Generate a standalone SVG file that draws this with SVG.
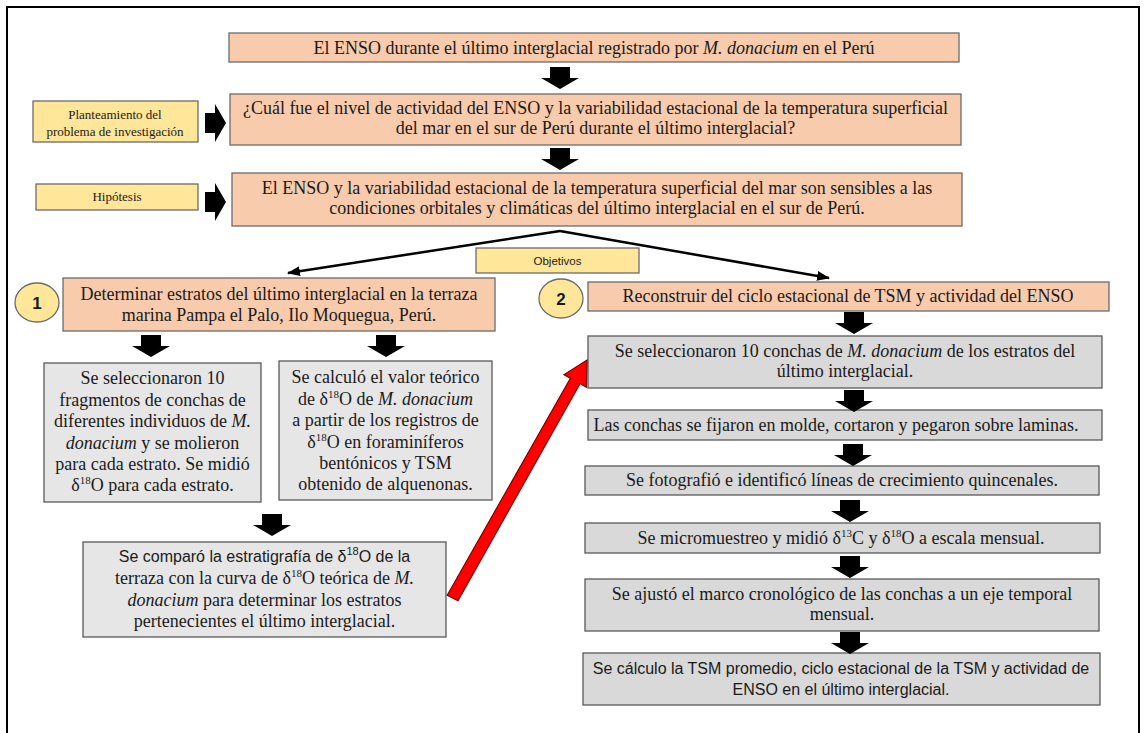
<svg xmlns="http://www.w3.org/2000/svg" xmlns:xlink="http://www.w3.org/1999/xlink" width="1146" height="733" viewBox="0 0 1146 733">
<style>
.s{fill:#F8CBAD;stroke:#6b6b6b;stroke-width:1.3}
.y{fill:#FFE699;stroke:#6b6b6b;stroke-width:1.3}
.g{fill:#E7E6E6;stroke:#595959;stroke-width:1.3}
.g2{fill:#D9D9D9;stroke:#595959;stroke-width:1.3}
.t{font-family:"Liberation Serif","Times New Roman",serif;font-size:18px;fill:#1a1a1a;text-anchor:middle}
.ts{font-family:"Liberation Sans",Arial,sans-serif;font-size:16px;fill:#1a1a1a;text-anchor:middle}
.sm{font-size:13px}
.i{font-style:italic}
.sup{font-size:11px}
.num{font-family:"Liberation Sans",Arial,sans-serif;font-size:17px;font-weight:bold;fill:#1a1a1a;text-anchor:middle}
.ob{font-family:"Liberation Sans",Arial,sans-serif;font-size:11.5px;fill:#1a1a1a;text-anchor:middle}
.blk{fill:#000}
.ln{stroke:#000;stroke-width:2.5;fill:none}
</style>
<defs>
<path id="dn" d="M-10,0 H10 V11 H19 L0,22 L-19,11 H-10 Z"/>
<path id="rt" d="M0,-10 H10 V-19 L21,0 L10,19 V10 H0 Z"/>
<marker id="ah" markerUnits="userSpaceOnUse" markerWidth="14" markerHeight="12" refX="12" refY="5" orient="auto">
<path d="M0,0 L13,5 L0,10 Z" fill="#000"/>
</marker>
</defs>

<path d="M7,733 V7 H1139 V733" fill="none" stroke="#000" stroke-width="2"/>

<g id="title">
<rect class="s" x="229" y="33" width="730" height="29"/>
<text class="t" x="594" y="54">El ENSO durante el último interglacial registrado por <tspan class="i">M. donacium</tspan> en el Perú</text>
</g>

<g id="label-problema">
<rect class="y" x="33" y="101" width="165" height="41"/>
<text class="t sm" x="115" y="119">Planteamiento  del</text>
<text class="t sm" x="115" y="136">problema  de investigación</text>
</g>

<g id="pregunta">
<rect class="s" x="230" y="94" width="731" height="51"/>
<text class="t" x="595.5" y="114">¿Cuál fue el nivel de actividad  del ENSO y la variabilidad  estacional de la temperatura  superficial</text>
<text class="t" x="595.5" y="134">del mar en el sur de Perú durante el último interglacial?</text>
</g>

<g id="label-hipotesis">
<rect class="y" x="36" y="184" width="162" height="26"/>
<text class="t sm" x="117" y="201">Hipótesis</text>
</g>

<g id="hipotesis">
<rect class="s" x="232" y="173" width="730" height="53"/>
<text class="t" x="597" y="194">El ENSO y la variabilidad  estacional de la temperatura  superficial del mar son sensibles a las</text>
<text class="t" x="597" y="214">condiciones orbitales y climáticas del último interglacial en el sur de Perú.</text>
</g>

<g id="objetivos">
<rect class="y" x="476" y="248" width="163" height="25"/>
<text class="ob" x="557.5" y="265">Objetivos</text>
</g>

<g id="num1">
<ellipse class="y" cx="37" cy="302.5" rx="22" ry="19.5"/>
<text class="num" x="37" y="308.5">1</text>
</g>

<g id="num2">
<ellipse class="y" cx="561" cy="298.5" rx="22" ry="19.5"/>
<text class="num" x="561" y="304.5">2</text>
</g>

<g id="obj1">
<rect class="s" x="63" y="278" width="432" height="53"/>
<text class="t" x="279" y="300">Determinar  estratos del último interglacial  en la terraza</text>
<text class="t" x="279" y="321">marina Pampa el Palo, Ilo Moquegua, Perú.</text>
</g>

<g id="obj2">
<rect class="s" x="588" y="282" width="521" height="29"/>
<text class="t" x="848" y="302">Reconstruir del ciclo estacional de TSM y actividad  del ENSO</text>
</g>

<g id="l1">
<rect class="g" x="44" y="363" width="217" height="139"/>
<text class="t" x="152.5" y="384">Se seleccionaron  10</text>
<text class="t" x="152.5" y="405.5">fragmentos  de conchas de</text>
<text class="t" x="152.5" y="427">diferentes  individuos de <tspan class="i">M.</tspan></text>
<text class="t" x="152.5" y="448.5"><tspan class="i">donacium</tspan> y se molieron</text>
<text class="t" x="152.5" y="470">para cada  estrato. Se midió</text>
<text class="t" x="152.5" y="491">δ<tspan class="sup" dy="-7">18</tspan><tspan dy="7">O para cada  estrato.</tspan></text>
</g>

<g id="l2">
<rect class="g" x="279" y="361" width="213" height="139"/>
<text class="t" x="385.5" y="383">Se calculó el valor teórico</text>
<text class="t" x="385.5" y="404.5">de δ<tspan class="sup" dy="-7">18</tspan><tspan dy="7">O  de </tspan><tspan class="i">M. donacium</tspan></text>
<text class="t" x="385.5" y="426">a partir de los registros de</text>
<text class="t" x="385.5" y="447.5">δ<tspan class="sup" dy="-7">18</tspan><tspan dy="7">O en foraminíferos</tspan></text>
<text class="t" x="385.5" y="469">bentónicos y TSM</text>
<text class="t" x="385.5" y="490">obtenido de alquenonas.</text>
</g>

<g id="l3">
<rect class="g" x="83" y="542" width="363" height="95"/>
<text class="ts" x="264.5" y="562">Se comparó la estratigrafía de δ<tspan class="sup" dy="-7">18</tspan><tspan dy="7">O  de la</tspan></text>
<text class="t" x="264.5" y="584">terraza  con la curva de δ<tspan class="sup" dy="-7">18</tspan><tspan dy="7">O teórica de </tspan><tspan class="i">M.</tspan></text>
<text class="t" x="264.5" y="606"><tspan class="i">donacium</tspan> para  determinar  los estratos</text>
<text class="t" x="264.5" y="627">pertenecientes  el último interglacial.</text>
</g>

<g id="r1">
<rect class="g2" x="588" y="336" width="514" height="52"/>
<text class="t" x="845" y="357">Se seleccionaron  10 conchas de <tspan class="i">M. donacium</tspan>  de los estratos del</text>
<text class="t" x="845" y="377">último interglacial.</text>
</g>

<g id="r2">
<rect class="g2" x="588" y="410" width="514" height="30"/>
<text class="t" x="836" y="430.5">Las conchas se fijaron en molde, cortaron y pegaron sobre laminas.</text>
</g>

<g id="r3">
<rect class="g2" x="585" y="466" width="514" height="29"/>
<text class="t" x="842" y="486">Se fotografió e identificó  líneas de crecimiento  quincenales.</text>
</g>

<g id="r4">
<rect class="g2" x="585" y="523" width="515" height="30"/>
<text class="t" x="841" y="543.5">Se micromuestreo y midió δ<tspan class="sup" dy="-7">13</tspan><tspan dy="7">C y δ</tspan><tspan class="sup" dy="-7">18</tspan><tspan dy="7">O a escala mensual.</tspan></text>
</g>

<g id="r5">
<rect class="g2" x="585" y="579" width="514" height="52"/>
<text class="t" x="842" y="600">Se ajustó el marco cronológico de las conchas a un eje temporal</text>
<text class="t" x="842" y="620">mensual.</text>
</g>

<g id="r6">
<rect class="g2" x="583" y="653" width="517" height="52"/>
<text class="ts" x="841" y="674">Se cálculo la TSM promedio, ciclo estacional de la TSM y actividad de</text>
<text class="ts" x="841" y="695">ENSO en el último interglacial.</text>
</g>

<g id="connectors">
<use xlink:href="#dn" class="blk" x="560" y="67"/>
<use xlink:href="#dn" class="blk" x="560" y="148"/>
<use xlink:href="#rt" class="blk" x="205" y="123"/>
<use xlink:href="#rt" class="blk" x="205" y="202"/>
<path class="ln" d="M560,231 L288,273" marker-end="url(#ah)"/>
<path class="ln" d="M560,231 L829,278" marker-end="url(#ah)"/>
<use xlink:href="#dn" class="blk" x="151" y="335"/>
<use xlink:href="#dn" class="blk" x="386" y="335"/>
<use xlink:href="#dn" class="blk" x="272" y="514"/>
<use xlink:href="#dn" class="blk" x="854" y="312"/>
<use xlink:href="#dn" class="blk" x="854" y="390"/>
<use xlink:href="#dn" class="blk" x="853" y="444"/>
<use xlink:href="#dn" class="blk" x="850" y="500"/>
<use xlink:href="#dn" class="blk" x="850" y="556"/>
<use xlink:href="#dn" class="blk" x="850" y="632"/>
<polygon points="447.2,595.3 570.4,378.2 564,374.6 587,360 586.4,387.2 580,383.6 458,600.7" fill="#FF0000" stroke="#7a0000" stroke-width="1.2"/>
</g>
</svg>
